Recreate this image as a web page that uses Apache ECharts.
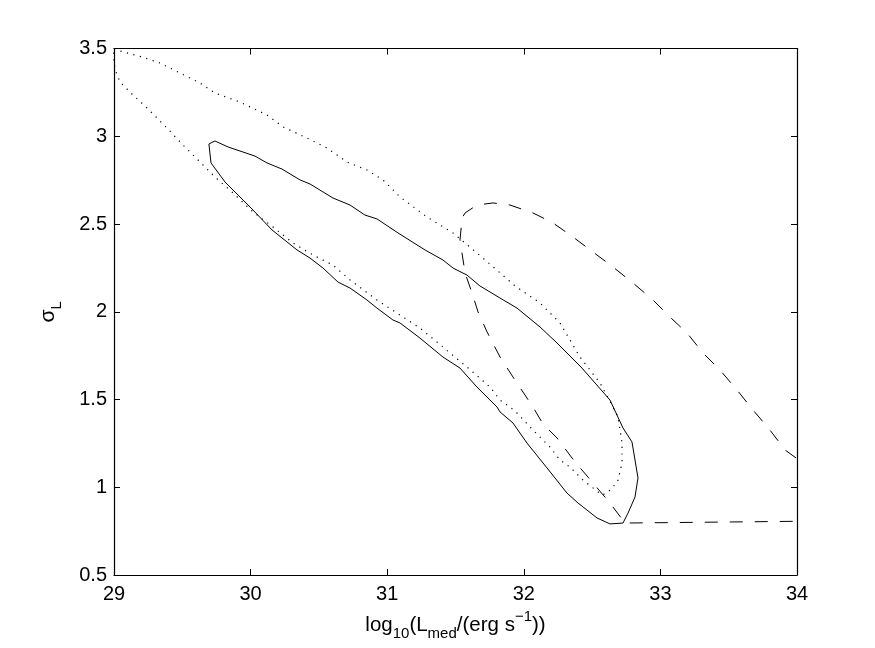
<!DOCTYPE html>
<html>
<head>
<meta charset="utf-8">
<script src="https://cdn.jsdelivr.net/npm/echarts@6/dist/echarts.min.js"></script>
<style>
  html, body { margin: 0; padding: 0; background: #fff; }
  #chart { width: 875px; height: 648px; }
</style>
</head>
<body>
<div id="chart"></div>
<script>
// solid contour (closed), [log10 L_med, sigma_L]
const solidContour = [
  [29.695, 2.956], [29.739, 2.973], [29.835, 2.939], [30.032, 2.887], [30.120, 2.848],
  [30.230, 2.813], [30.362, 2.751], [30.435, 2.728], [30.603, 2.648], [30.728, 2.608],
  [30.837, 2.551], [30.925, 2.529], [31.079, 2.449], [31.277, 2.352], [31.408, 2.295],
  [31.482, 2.249], [31.584, 2.209], [31.679, 2.147], [31.826, 2.078], [31.950, 2.021],
  [32.119, 1.913], [32.243, 1.822], [32.426, 1.679], [32.631, 1.497], [32.726, 1.338],
  [32.792, 1.258], [32.836, 1.053], [32.814, 0.944], [32.763, 0.853], [32.726, 0.796],
  [32.631, 0.791], [32.536, 0.825], [32.397, 0.910], [32.316, 0.967], [32.170, 1.110],
  [32.023, 1.252], [31.921, 1.366], [31.826, 1.429], [31.804, 1.457], [31.657, 1.571],
  [31.533, 1.679], [31.408, 1.742], [31.240, 1.850], [31.094, 1.936], [31.042, 1.953],
  [30.925, 2.021], [30.852, 2.067], [30.728, 2.135], [30.640, 2.169], [30.530, 2.249],
  [30.435, 2.306], [30.340, 2.352], [30.157, 2.466], [29.996, 2.597], [29.813, 2.739],
  [29.710, 2.848], [29.695, 2.956]
];

// dotted contour (closed, runs off the left edge)
const dottedContour = [
  [29.000, 3.497], [29.044, 3.486], [29.205, 3.452], [29.337, 3.417], [29.483, 3.360],
  [29.630, 3.303], [29.739, 3.246], [29.922, 3.195], [30.120, 3.121], [30.237, 3.053],
  [30.413, 2.990], [30.559, 2.933], [30.706, 2.853], [30.852, 2.808], [30.969, 2.751],
  [31.094, 2.654], [31.291, 2.540], [31.482, 2.449], [31.701, 2.306], [31.936, 2.147],
  [32.119, 2.050], [32.265, 1.936], [32.411, 1.742], [32.558, 1.594], [32.653, 1.457],
  [32.690, 1.400], [32.719, 1.252], [32.719, 1.138], [32.690, 1.041], [32.653, 1.001],
  [32.609, 0.967], [32.572, 0.956], [32.433, 1.041], [32.338, 1.115], [32.265, 1.155],
  [32.192, 1.229], [32.067, 1.326], [31.950, 1.423], [31.899, 1.457], [31.826, 1.497],
  [31.753, 1.571], [31.584, 1.685], [31.408, 1.799], [31.240, 1.907], [31.094, 1.981],
  [30.925, 2.067], [30.728, 2.181], [30.603, 2.266], [30.457, 2.323], [30.310, 2.392],
  [30.164, 2.483], [30.018, 2.568], [29.871, 2.677], [29.739, 2.768], [29.630, 2.853],
  [29.505, 2.950], [29.388, 3.047], [29.315, 3.104], [29.242, 3.161], [29.139, 3.235],
  [29.044, 3.309], [29.015, 3.366], [28.993, 3.434], [29.000, 3.497]
];

// dashed contour (open)
const dashedContour = [
  [33.993, 1.167], [33.913, 1.212], [33.802, 1.326], [33.678, 1.440], [33.561, 1.554],
  [33.436, 1.668], [33.312, 1.765], [33.195, 1.879], [33.070, 1.970], [32.946, 2.067],
  [32.799, 2.164], [32.653, 2.255], [32.507, 2.340], [32.360, 2.426], [32.214, 2.506],
  [32.067, 2.563], [31.899, 2.608], [31.774, 2.620], [31.657, 2.608], [31.570, 2.563],
  [31.548, 2.534], [31.533, 2.409], [31.570, 2.221], [31.621, 2.107], [31.665, 1.999],
  [31.731, 1.885], [31.826, 1.742], [31.921, 1.628], [32.067, 1.457], [32.141, 1.360],
  [32.243, 1.281], [32.375, 1.144], [32.470, 1.058], [32.631, 0.910], [32.741, 0.796],
  [33.993, 0.806]
];

const xTicks = { min: 29, max: 34, interval: 1 };
const yTicks = { min: 0.5, max: 3.5, interval: 0.5 };

const font = "'Liberation Sans', Arial, Helvetica, sans-serif";

let myChart = echarts.init(document.getElementById('chart'));

const frameAxis = (extra) => Object.assign({
  type: 'value',
  axisLine: { show: true, lineStyle: { color: '#000', width: 1.2 } },
  axisTick: { show: true, inside: true, length: 6, lineStyle: { color: '#000', width: 1 } },
  splitLine: { show: false },
  axisLabel: { show: false }
}, extra);

const tickLabel = { show: true, color: '#000', fontSize: 20, fontFamily: font };

myChart.setOption({
  animation: false,
  backgroundColor: '#fff',
  grid: { left: 114, right: 78, top: 48.5, bottom: 73 },
  xAxis: [
    frameAxis({
      position: 'bottom',
      min: xTicks.min, max: xTicks.max, interval: xTicks.interval,
      axisLabel: Object.assign({ margin: 9 }, tickLabel),
      name: '{n|log}{sub|10}{n|(L}{sub|med}{n|/(erg s}{sup|\u22121}{n|))}',
      nameLocation: 'middle',
      nameGap: 34,
      nameTextStyle: {
        color: '#000',
        fontFamily: font,
        rich: {
          n: { fontSize: 20.5, fontFamily: font, color: '#000', lineHeight: 32, verticalAlign: 'middle' },
          sub: { fontSize: 15, fontFamily: font, color: '#000', lineHeight: 32, verticalAlign: 'bottom' },
          sup: { fontSize: 15, fontFamily: font, color: '#000', lineHeight: 32, verticalAlign: 'top' }
        }
      }
    }),
    frameAxis({ position: 'top', min: xTicks.min, max: xTicks.max, interval: xTicks.interval })
  ],
  yAxis: [
    frameAxis({
      position: 'left',
      min: yTicks.min, max: yTicks.max, interval: yTicks.interval,
      axisLabel: Object.assign({ margin: 7 }, tickLabel),
      name: '{n|\u03c3}{sub|L}',
      nameLocation: 'middle',
      nameRotate: 90,
      nameGap: 50,
      nameTextStyle: {
        color: '#000',
        fontFamily: font,
        rich: {
          n: { fontSize: 21, fontFamily: font, color: '#000', lineHeight: 32, verticalAlign: 'middle' },
          sub: { fontSize: 15, fontFamily: font, color: '#000', lineHeight: 32, verticalAlign: 'bottom' }
        }
      }
    }),
    frameAxis({ position: 'right', min: yTicks.min, max: yTicks.max, interval: yTicks.interval })
  ],
  series: [
    {
      name: 'solid',
      type: 'line',
      data: solidContour,
      symbol: 'none',
      clip: true,
      lineStyle: { color: '#000', width: 1 }
    },
    {
      name: 'dotted',
      type: 'line',
      data: dottedContour,
      symbol: 'none',
      clip: true,
      lineStyle: { color: '#000', width: 1.2, type: [1.2, 5.5] }
    },
    {
      name: 'dashed',
      type: 'line',
      data: dashedContour,
      symbol: 'none',
      clip: true,
      lineStyle: { color: '#000', width: 1, type: [13, 12] }
    }
  ]
});
</script>
</body>
</html>
